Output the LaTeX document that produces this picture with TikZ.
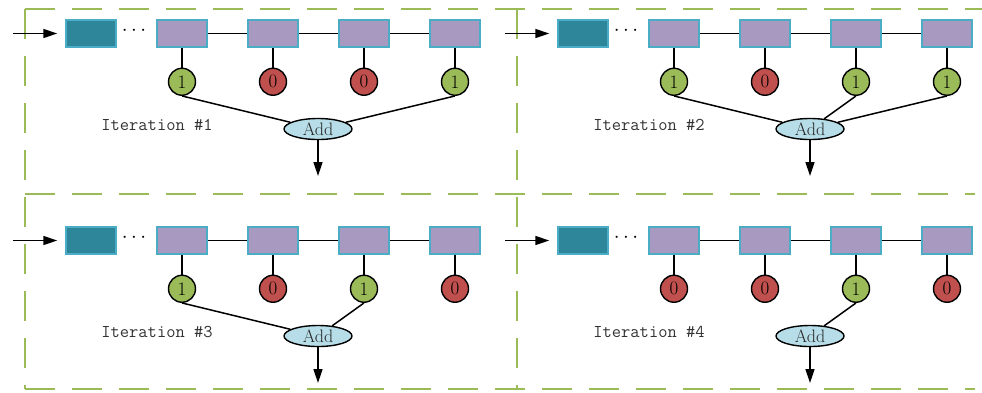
\documentclass[tikz,border=0pt]{standalone}
\usetikzlibrary{arrows.meta,shapes.geometric}
\definecolor{frameg}{RGB}{155,187,89}
\definecolor{edgeblue}{RGB}{75,172,198}
\definecolor{headfill}{RGB}{46,134,155}
\definecolor{cellfill}{RGB}{168,153,192}
\definecolor{onefill}{RGB}{155,187,89}
\definecolor{zerofill}{RGB}{192,80,77}
\definecolor{addfill}{RGB}{183,222,232}
\tikzset{
  frame/.style={draw=frameg,line width=2pt,dash pattern=on 30pt off 17pt},
  headbox/.style={rectangle,draw=edgeblue,fill=headfill,line width=1.5pt,minimum width=50pt,minimum height=27pt,inner sep=0pt},
  cellbox/.style={rectangle,draw=edgeblue,fill=cellfill,line width=1.5pt,minimum width=50pt,minimum height=27pt,inner sep=0pt},
  bitbase/.style={circle,draw=black,line width=1.4pt,minimum size=27pt,inner sep=0pt,font=\fontsize{19}{19}\selectfont},
  bit1/.style={bitbase,fill=onefill},
  bit0/.style={bitbase,fill=zerofill},
  addnode/.style={ellipse,draw=black,line width=1.4pt,fill=addfill,minimum width=68pt,minimum height=21pt,inner sep=0pt,font=\fontsize{18}{18}\selectfont,text=black!85},
  wire/.style={draw=black,line width=1.5pt},
  flow/.style={draw=black,line width=1.5pt,-{Triangle[length=14pt,width=9pt]}},
  itlabel/.style={font=\fontsize{18}{18}\ttfamily,text=black!80},
}
% #1 id, #2 x shift, #3 y shift, #4 caption, #5 bits (pos/value), #6 summed positions
\newcommand{\iterpanel}[6]{%
  \begin{scope}[shift={(#2,#3)}]
    \coordinate (#1in) at (13,33.5);
    \node[headbox] (#1h) at (91,33.5) {};
    \node[font=\fontsize{20}{20}\selectfont] (#1dots) at (134,31) {$\cdots$};
    \foreach \k/\bx in {1/182,2/273,3/364,4/455}
      \node[cellbox] (#1c\k) at (\bx,33.5) {};
    \draw[wire] (#1c1) -- (#1c2) (#1c2) -- (#1c3) (#1c3) -- (#1c4);
    \draw[flow,shorten >=8pt] (#1in) -- (#1h);
    \foreach \k/\v in {#5}{
      \path (#1c\k.south) ++(0,34) node[bit\v] (#1b\k) {\v};
      \draw[wire] (#1c\k.south) -- (#1b\k.north);
    }
    \node[addnode] (#1add) at (318,129) {Add};
    \coordinate (#1out) at (318,176);
    \draw[flow] (#1add.south) -- (#1out);
    \foreach \k in {#6}
      \draw[wire] (#1b\k.south) -- (#1add);
    \node[itlabel] (#1lab) at (157,125) {#4};
  \end{scope}}

\begin{document}
\begin{tikzpicture}[x=1pt,y=-1pt]
  \useasboundingbox (0,0) rectangle (982,392);
  % dashed panel frames
  \draw[frame] (25,9) -- (982,9);
  \draw[frame] (25,194) -- (975,194);
  \draw[frame] (25,389) -- (975,389);
  \draw[frame] (25,9) -- (25,389);
  \draw[frame] (517,9) -- (517,389);

  \iterpanel{pa}{0}{0}{Iteration \#1}{1/1,2/0,3/0,4/1}{1,4}
  \iterpanel{pb}{492}{0}{Iteration \#2}{1/1,2/0,3/1,4/1}{1,3,4}
  \iterpanel{pc}{0}{207}{Iteration \#3}{1/1,2/0,3/1,4/0}{1,3}
  \iterpanel{pd}{492}{207}{Iteration \#4}{1/0,2/0,3/1,4/0}{3}
\end{tikzpicture}
\end{document}
